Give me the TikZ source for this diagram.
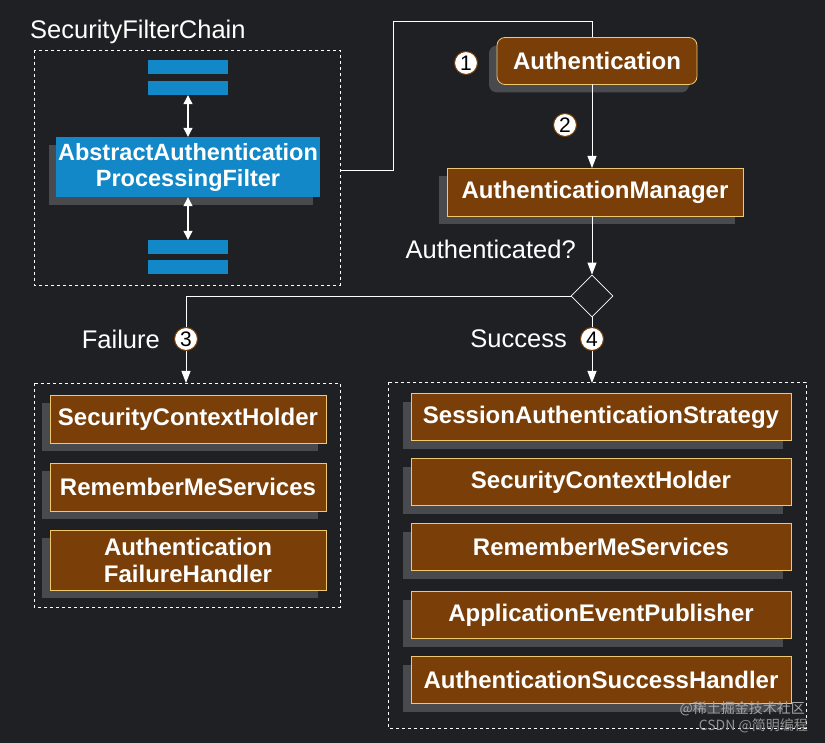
\documentclass[tikz,border=0pt]{standalone}
\usepackage{fontspec}
\setmainfont{Liberation Sans}
\newfontfamily\cjk{Noto Sans CJK SC}
\usetikzlibrary{shadows,shapes.geometric,arrows.meta}
\definecolor{bg}{RGB}{30,32,35}
\definecolor{brn}{RGB}{122,63,8}
\definecolor{brd}{RGB}{240,200,110}
\definecolor{shg}{RGB}{72,74,78}
\definecolor{blu}{RGB}{18,136,200}
\tikzset{
  box/.style={draw=brd, fill=brn, text=white, font=\fontsize{24}{27}\selectfont\bfseries,
    align=center, inner sep=0pt, line width=0.8pt,
    general shadow={fill=shg, shadow xshift=-8pt, shadow yshift=-8pt}},
  bluebox/.style={fill=blu, text=white, inner sep=0pt, align=center},
  num/.style={circle, fill=white, draw=brn, line width=1pt, text=black, inner sep=0pt,
    minimum size=23pt, font=\fontsize{21}{21}\selectfont},
  lbl/.style={text=white, font=\fontsize{25.5}{28}\selectfont, inner sep=0pt},
  con/.style={draw=white, line width=0.9pt},
  arr/.style={con, -{Triangle[width=9pt,length=12pt]}},
  dbl/.style={con, line width=1.2pt, {Triangle[width=9pt,length=9pt]}-{Triangle[width=9pt,length=9pt]}},
  grp/.style={draw=white, dashed, line width=0.9pt},
}
\begin{document}
\begin{tikzpicture}[x=1pt,y=-1pt]
\fill[bg] (0,0) rectangle (825,743);
\useasboundingbox (0,0) rectangle (825,743);

% security filter chain
\node[lbl, anchor=west] (sfc) at (30,32) {SecurityFilterChain};
\draw[grp] (34,50) rectangle (340,285);
\coordinate (boxe) at (340,170);
\node[bluebox, minimum width=80pt, minimum height=14pt] (b1) at (188,67) {};
\node[bluebox, minimum width=80pt, minimum height=14pt] (b2) at (188,88) {};
\node[bluebox, minimum width=80pt, minimum height=14pt] (b3) at (188,247) {};
\node[bluebox, minimum width=80pt, minimum height=14pt] (b4) at (188,267) {};
\node[bluebox, minimum width=264pt, minimum height=60pt,
  font=\fontsize{23.5}{26}\selectfont\bfseries,
  general shadow={fill=shg, shadow xshift=-7pt, shadow yshift=-8pt}] (aapf) at (188,167)
  {AbstractAuthentication\\ProcessingFilter};
\draw[dbl] (b2.south) -- (aapf.north);
\draw[dbl] (aapf.south) -- (b3.north);

% authentication
\node[box, rounded corners=8pt, minimum width=200pt, minimum height=47pt] (auth) at (597,61) {Authentication};
\node[num] (n1) at (466,63) {1};
\draw[con] (boxe) -- (393,170) -- (393,21) -- (592,21) -- (592,37);
\node[box, minimum width=296pt, minimum height=48pt] (mgr) at (595,192) {AuthenticationManager};
\coordinate (authb) at (592,84);
\coordinate (mgrt) at (592,168);
\coordinate (mgrb) at (592,216);
\draw[arr] (authb) -- (mgrt);
\node[num] (n2) at (565,125) {2};
\node[lbl, anchor=east] (q) at (576,249) {Authenticated?};
\node[diamond, draw=white, fill=bg, minimum width=42pt, minimum height=42pt, inner sep=0pt, line width=0.8pt] (dec) at (592,296) {};
\draw[arr] (mgrb) -- (dec.north);

% branches
\draw[arr] (dec.west) -- (186,296) -- (186,383);
\draw[arr] (dec.south) -- (592,383);
\node[num] (n3) at (186,339) {3};
\node[num] (n4) at (592,339) {4};
\node[lbl, anchor=east] (fail) at (160,339) {Failure};
\node[lbl, anchor=east] (succ) at (567,339) {Success};

% failure group
\draw[grp] (34,383) rectangle (340,607);
\node[box, minimum width=276pt, minimum height=48pt] (f1) at (188,419) {SecurityContextHolder};
\node[box, minimum width=276pt, minimum height=48pt] (f2) at (188,487) {RememberMeServices};
\node[box, minimum width=276pt, minimum height=60pt] (f3) at (188,560) {Authentication\\FailureHandler};

% success group
\draw[grp] (388,382) rectangle (806,728);
\node[box, minimum width=380pt, minimum height=47pt] (s1) at (601,417) {SessionAuthenticationStrategy};
\node[box, minimum width=380pt, minimum height=47pt] (s2) at (601,482) {SecurityContextHolder};
\node[box, minimum width=380pt, minimum height=47pt] (s3) at (601,547) {RememberMeServices};
\node[box, minimum width=380pt, minimum height=47pt] (s4) at (601,615) {ApplicationEventPublisher};
\node[box, minimum width=380pt, minimum height=47pt] (s5) at (601,680) {AuthenticationSuccessHandler};

% watermark
\node[text=gray!70, font=\cjk\fontsize{14}{14}\selectfont, anchor=east, inner sep=0pt] (wm1) at (805,709) {@稀土掘金技术社区};
\node[text=gray!85, font=\cjk\fontsize{14}{14}\selectfont, anchor=east, inner sep=0pt] (wm2) at (808,726) {CSDN @简明编程};
\end{tikzpicture}
\end{document}
